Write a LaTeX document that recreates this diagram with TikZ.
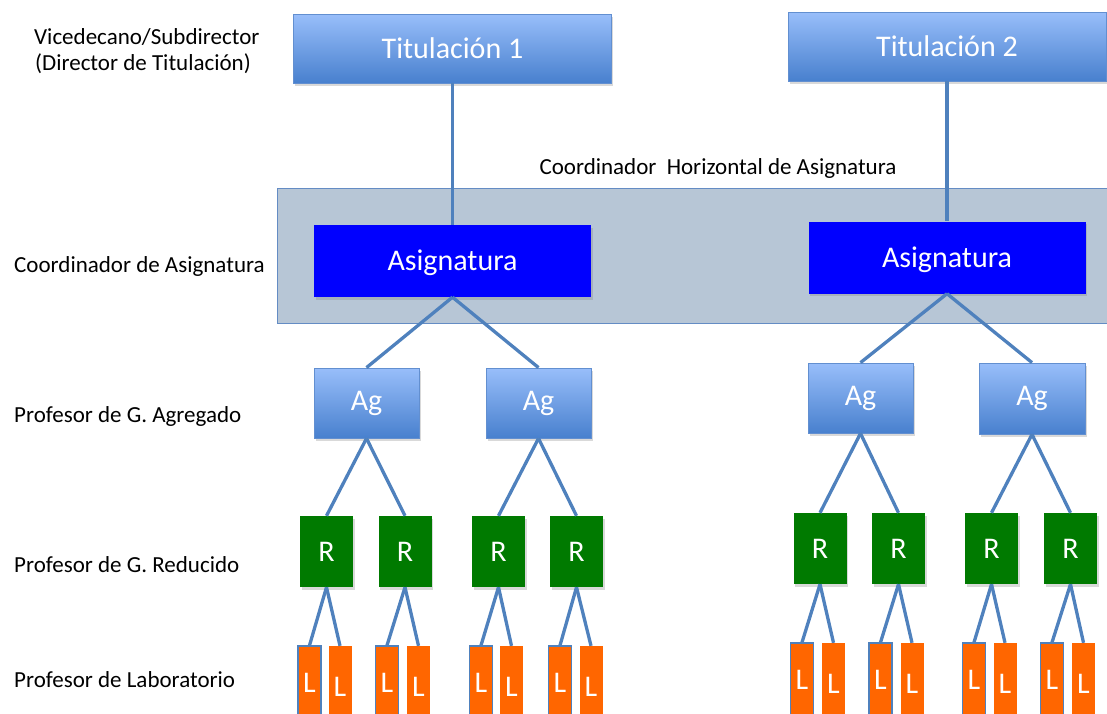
\documentclass[tikz,border=0pt]{standalone}
\usepackage{fontspec}
\setmainfont{Carlito}
\usetikzlibrary{shadows}
\definecolor{linkblue}{RGB}{79,129,189}
\definecolor{gradtop}{RGB}{152,190,250}
\definecolor{gradbot}{RGB}{72,128,206}
\definecolor{gradedge}{RGB}{98,143,208}
\definecolor{bandfill}{RGB}{183,198,214}
\definecolor{bandedge}{RGB}{100,140,196}
\definecolor{asigblue}{RGB}{0,0,255}
\definecolor{rgreen}{RGB}{0,122,0}
\definecolor{lorange}{RGB}{255,102,0}
\tikzset{
  boxtext/.style={font=\fontsize{30}{33}\selectfont, text=white, inner sep=0pt, text height=19.3pt, text depth=0pt},
  shade/.style={drop shadow={opacity=0.3, shadow xshift=1.5pt, shadow yshift=-2.5pt}},
  gradbox/.style={boxtext, shade, top color=gradtop, bottom color=gradbot, draw=gradedge, line width=0.8pt},
  agbox/.style={gradbox, text depth=5pt},
  asigbox/.style={boxtext, shade, fill=asigblue, minimum width=277pt, minimum height=72pt},
  rbox/.style={boxtext, shade, fill=rgreen, minimum width=53pt, minimum height=71pt},
  lbox/.style={boxtext, fill=lorange, minimum width=23pt, minimum height=77pt, text height=24pt},
  lboxb/.style={boxtext, fill=lorange, minimum width=23pt, minimum height=77pt, draw=linkblue, line width=1.2pt, text depth=3.5pt},
  link/.style={draw=linkblue, line width=3.3pt},
  lbl/.style={font=\fontsize{23}{27}\selectfont, inner sep=0pt, anchor=base west},
}
\begin{document}
\begin{tikzpicture}[x=1pt, y=-1pt]
\useasboundingbox (0,0) rectangle (1107,713);
% band
\node[draw=bandedge, fill=bandfill, line width=1pt, minimum width=840pt, minimum height=135pt, anchor=north west, inner sep=0pt] (band) at (277,188) {};
\node[lbl, anchor=base] (hlabel) at (718,174) {Coordinador\ \ Horizontal de Asignatura};
% left labels
\node[lbl] (l1) at (34,44) {Vicedecano/Subdirector};
\node[lbl] (l2) at (35,70) {(Director de Titulación)};
\node[lbl] (l3) at (14,272) {Coordinador de Asignatura};
\node[lbl] (l4) at (14,422) {Profesor de G. Agregado};
\node[lbl] (l5) at (14,572) {Profesor de G. Reducido};
\node[lbl] (l6) at (14,687) {Profesor de Laboratorio};
% titulaciones
\node[gradbox, minimum width=318pt, minimum height=69pt] (t1) at (452.5,48.5) {Titulación 1};
\node[gradbox, minimum width=318pt, minimum height=69pt] (t2) at (947,46.5) {Titulación 2};
% asignaturas
\node[asigbox] (a1) at (452.5,261) {Asignatura};
\node[asigbox] (a2) at (947,257.5) {Asignatura};
% Ag
\node[agbox, minimum width=105pt, minimum height=70pt] (ag1) at (366.5,403) {Ag};
\node[agbox, minimum width=105pt, minimum height=70pt] (ag2) at (538.5,403) {Ag};
\node[agbox, minimum width=105pt, minimum height=70pt] (ag3) at (860.5,398) {Ag};
\node[agbox, minimum width=106pt, minimum height=71pt] (ag4) at (1032,398.5) {Ag};
% R
\node[rbox] (r1) at (326.5,551.5) {R};
\node[rbox] (r2) at (405,551.5) {R};
\node[rbox] (r3) at (498.5,551.5) {R};
\node[rbox] (r4) at (576.5,551.5) {R};
\node[rbox] (r5) at (820,548.5) {R};
\node[rbox] (r6) at (898.5,548.5) {R};
\node[rbox] (r7) at (991.5,548.5) {R};
\node[rbox] (r8) at (1070.5,548.5) {R};
% L
\node[lboxb] (la1) at (309.5,684.5) {L};
\node[lbox]  (lb1) at (340,684.5) {L};
\node[lboxb] (la2) at (387,684.5) {L};
\node[lbox]  (lb2) at (418.5,684.5) {L};
\node[lboxb] (la3) at (481,684.5) {L};
\node[lbox]  (lb3) at (511.5,684.5) {L};
\node[lboxb] (la4) at (560,684.5) {L};
\node[lbox]  (lb4) at (591,684.5) {L};
\node[lboxb] (la5) at (802,681.5) {L};
\node[lbox]  (lb5) at (833.5,681.5) {L};
\node[lboxb] (la6) at (880.5,681.5) {L};
\node[lbox]  (lb6) at (912,681.5) {L};
\node[lboxb] (la7) at (974,681.5) {L};
\node[lbox]  (lb7) at (1005,681.5) {L};
\node[lboxb] (la8) at (1052,681.5) {L};
\node[lbox]  (lb8) at (1083.5,681.5) {L};
% connectors
\draw[link] (t1.south) -- (a1.north);
\draw[link] (t2.south) -- (a2.north);
\draw[link] (a1.south) -- (ag1.north);
\draw[link] (a1.south) -- (ag2.north);
\draw[link] (a2.south) -- (ag3.north);
\draw[link] (a2.south) -- (ag4.north);
\draw[link] (ag1.south) -- (r1.north);
\draw[link] (ag1.south) -- (r2.north);
\draw[link] (ag2.south) -- (r3.north);
\draw[link] (ag2.south) -- (r4.north);
\draw[link] (ag3.south) -- (r5.north);
\draw[link] (ag3.south) -- (r6.north);
\draw[link] (ag4.south) -- (r7.north);
\draw[link] (ag4.south) -- (r8.north);
\foreach \i in {1,...,8}{
  \draw[link] (r\i.south) -- (la\i.north);
  \draw[link] (r\i.south) -- (lb\i.north);
}
\end{tikzpicture}
\end{document}
